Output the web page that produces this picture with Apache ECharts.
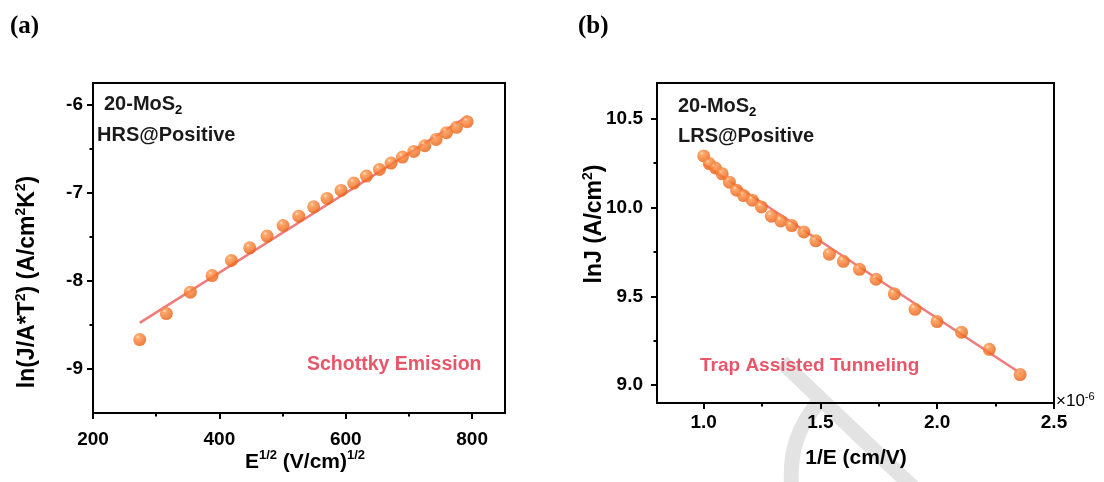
<!DOCTYPE html>
<html><head><meta charset="utf-8">
<script src="https://cdn.jsdelivr.net/npm/echarts@6/dist/echarts.min.js"></script>
<style>html,body{margin:0;padding:0;background:#fff}#c{width:1104px;height:482px}</style>
</head><body><div id="c"></div>
<script>
// Panel (a): Schottky emission
const aX = [273.9, 316.1, 354.1, 388.4, 419.0, 448.0, 475.5, 500.8, 525.6, 549.3, 570.4, 592.6, 612.7, 632.7, 653.3, 671.8, 689.7, 707.7, 725.1, 743.0, 759.4, 775.2, 792.1];
const aY = [-8.666, -8.370, -8.127, -7.938, -7.767, -7.623, -7.490, -7.369, -7.263, -7.157, -7.062, -6.971, -6.887, -6.808, -6.732, -6.660, -6.592, -6.527, -6.463, -6.391, -6.315, -6.254, -6.190];
const aFitX = [273.9, 793.1];
const aFitY = [-8.476, -6.125];
const aXTicks = [200, 400, 600, 800];
const aXMinor = [300, 500, 700];
const aYTicks = [-9, -8, -7, -6];
const aYMinor = [-8.5, -7.5, -6.5];
// Panel (b): trap assisted tunneling (x in units of 1e-6 cm/V)
const bX = [1.000, 1.024, 1.050, 1.079, 1.110, 1.141, 1.171, 1.208, 1.247, 1.290, 1.330, 1.377, 1.429, 1.480, 1.538, 1.598, 1.667, 1.738, 1.816, 1.905, 1.999, 2.104, 2.223, 2.355];
const bY = [10.290, 10.247, 10.222, 10.189, 10.142, 10.097, 10.067, 10.041, 10.003, 9.951, 9.924, 9.898, 9.862, 9.812, 9.737, 9.697, 9.652, 9.596, 9.514, 9.427, 9.358, 9.298, 9.202, 9.060];
const bFitX = [1.0, 2.358];
const bFitY = [10.243, 9.066];
const bXTicks = [1.0, 1.5, 2.0, 2.5];
const bXMinor = [1.25, 1.75, 2.25];
const bYTicks = [9.0, 9.5, 10.0, 10.5];
const bYMinor = [9.25, 9.75, 10.25];

const FONT = 'Liberation Sans';
const zip = (xs, ys) => xs.map((x, i) => [x, ys[i]]);
const chart = echarts.init(document.getElementById('c'));
const ball = {type: 'radial', x: 0.36, y: 0.3, r: 0.62, colorStops: [
  {offset: 0, color: '#ffe2c4'}, {offset: 0.22, color: '#ff9448'}, {offset: 1, color: '#ea6418'}]};
const lineColor = '#f07b7b';

function majorAxis(gi, pos, min, max, ticks, margin, fmt) {
  return {
    type: 'value', gridIndex: gi, position: pos, min: min, max: max,
    splitLine: {show: false},
    axisLine: {show: true, onZero: false, lineStyle: {color: '#000', width: 2}},
    axisTick: {show: true, inside: false, length: 6, lineStyle: {color: '#000', width: 2}, customValues: ticks},
    axisLabel: {show: true, margin: margin, color: '#000', fontFamily: FONT, fontWeight: 'bold', fontSize: 19,
      customValues: ticks, formatter: fmt}
  };
}
function minorAxis(gi, pos, min, max, ticks) {
  return {
    type: 'value', gridIndex: gi, position: pos, min: min, max: max,
    splitLine: {show: false},
    axisLine: {show: false, onZero: false},
    axisTick: {show: true, inside: false, length: 3.5, lineStyle: {color: '#000', width: 2}, customValues: ticks},
    axisLabel: {show: false}
  };
}
const f1 = v => Number(v).toFixed(1);
const f0 = v => String(Math.round(v));

const supRich = {
  b: {fontFamily: FONT, fontWeight: 'bold', fontSize: 21, fill: '#000', lineHeight: 26, verticalAlign: 'middle'},
  sup: {fontFamily: FONT, fontWeight: 'bold', fontSize: 13, fill: '#000', lineHeight: 14, verticalAlign: 'top'},
  sub: {fontFamily: FONT, fontWeight: 'bold', fontSize: 13, fill: '#000', lineHeight: 14, verticalAlign: 'bottom'},
  a: {fontFamily: FONT, fontWeight: 'bold', fontSize: 20, fill: '#1a1a1a', lineHeight: 26, verticalAlign: 'middle'},
  yb: {fontFamily: FONT, fontWeight: 'bold', fontSize: 23, fill: '#000', lineHeight: 28, verticalAlign: 'middle'},
  ysup: {fontFamily: FONT, fontWeight: 'bold', fontSize: 14, fill: '#000', lineHeight: 15, verticalAlign: 'top'}
};

function txt(x, y, text, opt) {
  return {type: 'text', x: x, y: y, silent: true,
    style: Object.assign({text: text, rich: supRich, align: 'left', verticalAlign: 'middle'}, opt || {})};
}

const option = {
  animation: false,
  backgroundColor: '#fff',
  grid: [
    {left: 93, top: 83, width: 412, height: 330, show: true, borderColor: '#000', borderWidth: 2, backgroundColor: 'transparent'},
    {left: 657, top: 83, width: 397, height: 320, show: true, borderColor: '#000', borderWidth: 2, backgroundColor: 'transparent'}
  ],
  xAxis: [
    majorAxis(0, 'bottom', 200, 852, aXTicks, 17, f0),
    minorAxis(0, 'bottom', 200, 852, aXMinor),
    majorAxis(1, 'bottom', 0.8, 2.5, bXTicks, 10, f1),
    minorAxis(1, 'bottom', 0.8, 2.5, bXMinor)
  ],
  yAxis: [
    majorAxis(0, 'left', -9.5, -5.75, aYTicks, 10, f0),
    minorAxis(0, 'left', -9.5, -5.75, aYMinor),
    majorAxis(1, 'left', 8.9, 10.7, bYTicks, 14, f1),
    minorAxis(1, 'left', 8.9, 10.7, bYMinor)
  ],
  series: [
    {type: 'line', xAxisIndex: 0, yAxisIndex: 0, data: zip(aFitX, aFitY), showSymbol: false, symbol: 'none',
      lineStyle: {color: lineColor, width: 2.5}, z: 2},
    {type: 'scatter', xAxisIndex: 0, yAxisIndex: 0, data: zip(aX, aY), symbolSize: 13,
      itemStyle: {color: ball}, z: 3},
    {type: 'line', xAxisIndex: 2, yAxisIndex: 2, data: zip(bFitX, bFitY), showSymbol: false, symbol: 'none',
      lineStyle: {color: lineColor, width: 2.5}, z: 2},
    {type: 'scatter', xAxisIndex: 2, yAxisIndex: 2, data: zip(bX, bY), symbolSize: 13,
      itemStyle: {color: ball}, z: 3}
  ],
  graphic: [
    // watermark band
    {type: 'line', z: -10, silent: true, shape: {x1: 782, y1: 362, x2: 918, y2: 492},
      style: {stroke: '#e3e3e3', lineWidth: 15}},
    {type: 'bezierCurve', z: -10, silent: true,
      shape: {x1: 822, y1: 398, cpx1: 798, cpy1: 425, cpx2: 788, cpy2: 452, x2: 792, y2: 492},
      style: {fill: null, stroke: '#e3e3e3', lineWidth: 15}},
    // panel letters
    {type: 'text', x: 10, y: 27, silent: true, style: {text: '(a)', fontFamily: 'Liberation Serif', fontWeight: 'bold', fontSize: 25, fill: '#000', verticalAlign: 'middle'}},
    {type: 'text', x: 578, y: 27, silent: true, style: {text: '(b)', fontFamily: 'Liberation Serif', fontWeight: 'bold', fontSize: 25, fill: '#000', verticalAlign: 'middle'}},
    // annotations (a)
    txt(104, 104, '{a|20-MoS}{sub|2}'),
    txt(97, 135, '{a|HRS@Positive}'),
    {type: 'text', x: 307, y: 365, silent: true, style: {text: 'Schottky Emission', fontFamily: FONT, fontWeight: 'bold', fontSize: 19.5, fill: '#e9566a', verticalAlign: 'middle'}},
    // annotations (b)
    txt(678, 106, '{a|20-MoS}{sub|2}'),
    txt(678, 136, '{a|LRS@Positive}'),
    {type: 'text', x: 700, y: 366, silent: true, style: {text: 'Trap Assisted Tunneling', fontFamily: FONT, fontWeight: 'bold', fontSize: 19, fill: '#e9566a', verticalAlign: 'middle'}},
    // axis titles
    txt(305, 462, '{b|E}{sup|1/2}{b| (V/cm)}{sup|1/2}', {align: 'center'}),
    txt(856, 458, '{b|1/E (cm/V)}', {align: 'center'}),
    {type: 'text', x: 28, y: 282, rotation: Math.PI / 2, silent: true,
      style: {text: '{yb|ln(J/A*T}{ysup|2}{yb|) (A/cm}{ysup|2}{yb|K}{ysup|2}{yb|)}', rich: supRich, align: 'center', verticalAlign: 'middle'}},
    {type: 'text', x: 595, y: 224, rotation: Math.PI / 2, silent: true,
      style: {text: '{yb|lnJ (A/cm}{ysup|2}{yb|)}', rich: supRich, align: 'center', verticalAlign: 'middle'}},
    // exponent
    {type: 'text', x: 1056, y: 401, silent: true,
      style: {text: '{m|×10}{s|-6}', align: 'left', verticalAlign: 'middle', rich: {
        m: {fontFamily: FONT, fontSize: 17, fill: '#000', lineHeight: 20, verticalAlign: 'middle'},
        s: {fontFamily: FONT, fontSize: 11, fill: '#000', lineHeight: 11, verticalAlign: 'top'}}}}
  ]
};
chart.setOption(option);
</script></body></html>
